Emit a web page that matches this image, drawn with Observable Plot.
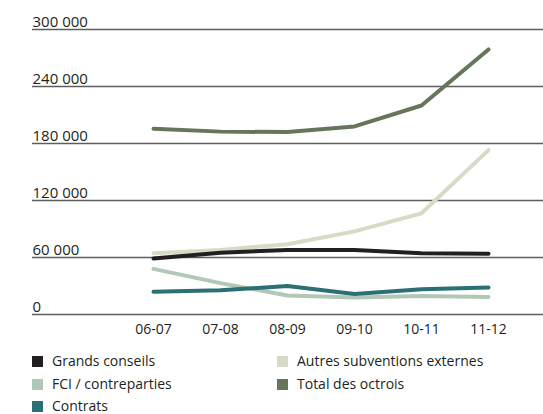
<!DOCTYPE html>
<html>
<head>
<meta charset="utf-8">
<script src="https://cdn.jsdelivr.net/npm/d3@7"></script>
<script src="https://cdn.jsdelivr.net/npm/@observablehq/plot@0.6"></script>
<style>
  html, body { margin: 0; padding: 0; background: #fff; }
  #wrap { position: relative; width: 543px; height: 414px; font-family: "Open Sans", sans-serif; overflow: hidden; }
  .leg { position: absolute; font-size: 14px; color: #231f20; display: flex; align-items: center; white-space: nowrap; line-height: 14px; }
  .leg .sw { width: 11px; height: 11px; margin-right: 9px; flex: none; }
</style>
</head>
<body>
<div id="wrap"></div>
<script>
const years = ["06-07", "07-08", "08-09", "09-10", "10-11", "11-12"];
const grandsConseils = [59000, 65000, 68000, 68000, 64500, 64000];
const fciContreparties = [48000, 33000, 20000, 18000, 19500, 18500];
const contrats = [24000, 25500, 30000, 21500, 26500, 28500];
const autresSubventions = [64500, 68000, 74000, 87500, 106500, 173000];
const totalOctrois = [195500, 192500, 192000, 198000, 220000, 279000];
const yTicks = [0, 60000, 120000, 180000, 240000, 300000];

const seriesNames = ["Grands conseils", "FCI / contreparties", "Contrats", "Autres subventions externes", "Total des octrois"];
const seriesColors = ["#231f20", "#b2c8b6", "#2b7075", "#d7dac5", "#66765a"];
const seriesValues = [grandsConseils, fciContreparties, contrats, autresSubventions, totalOctrois];
const drawOrder = [3, 1, 4, 0, 2];

const rows = drawOrder.flatMap(i => years.map((yr, j) => ({series: seriesNames[i], year: yr, value: seriesValues[i][j]})));

const fmt = v => d3.format(",")(v).replace(/,/g, " ");

const chart = Plot.plot({
  width: 543,
  height: 340,
  marginLeft: 32,
  marginRight: 0,
  marginTop: 29,
  marginBottom: 26,
  style: {fontFamily: "Open Sans, sans-serif", background: "white"},
  x: {type: "point", domain: years, range: [119, 522], axis: null},
  y: {domain: [0, 300000], axis: null},
  color: {domain: seriesNames, range: seriesColors},
  marks: [
    Plot.ruleY(yTicks, {stroke: "#5e5e5e", strokeWidth: 1.3}),
    Plot.text(yTicks, {y: d => d, text: d => fmt(d), frameAnchor: "left", textAnchor: "start", lineAnchor: "bottom", dy: -3, fontSize: 15, fill: "#231f20"}),
    Plot.text(years, {x: d => d, text: d => d, frameAnchor: "bottom", lineAnchor: "top", dy: 10, fontSize: 14, fill: "#231f20"}),
    Plot.line(rows, {x: "year", y: "value", z: "series", stroke: "series", strokeWidth: 4, strokeLinecap: "round", strokeLinejoin: "round"})
  ]
});

const wrap = document.getElementById("wrap");
wrap.appendChild(chart);

const legendPos = [[32, 361], [32, 384], [32, 406], [277, 361], [277, 384]];
seriesNames.forEach((name, i) => {
  const el = document.createElement("div");
  el.className = "leg";
  el.style.left = legendPos[i][0] + "px";
  el.style.top = (legendPos[i][1] - 7) + "px";
  el.style.height = "14px";
  const sw = document.createElement("span");
  sw.className = "sw";
  sw.style.background = seriesColors[i];
  const tx = document.createElement("span");
  tx.textContent = name;
  el.appendChild(sw);
  el.appendChild(tx);
  wrap.appendChild(el);
});
</script>
</body>
</html>
